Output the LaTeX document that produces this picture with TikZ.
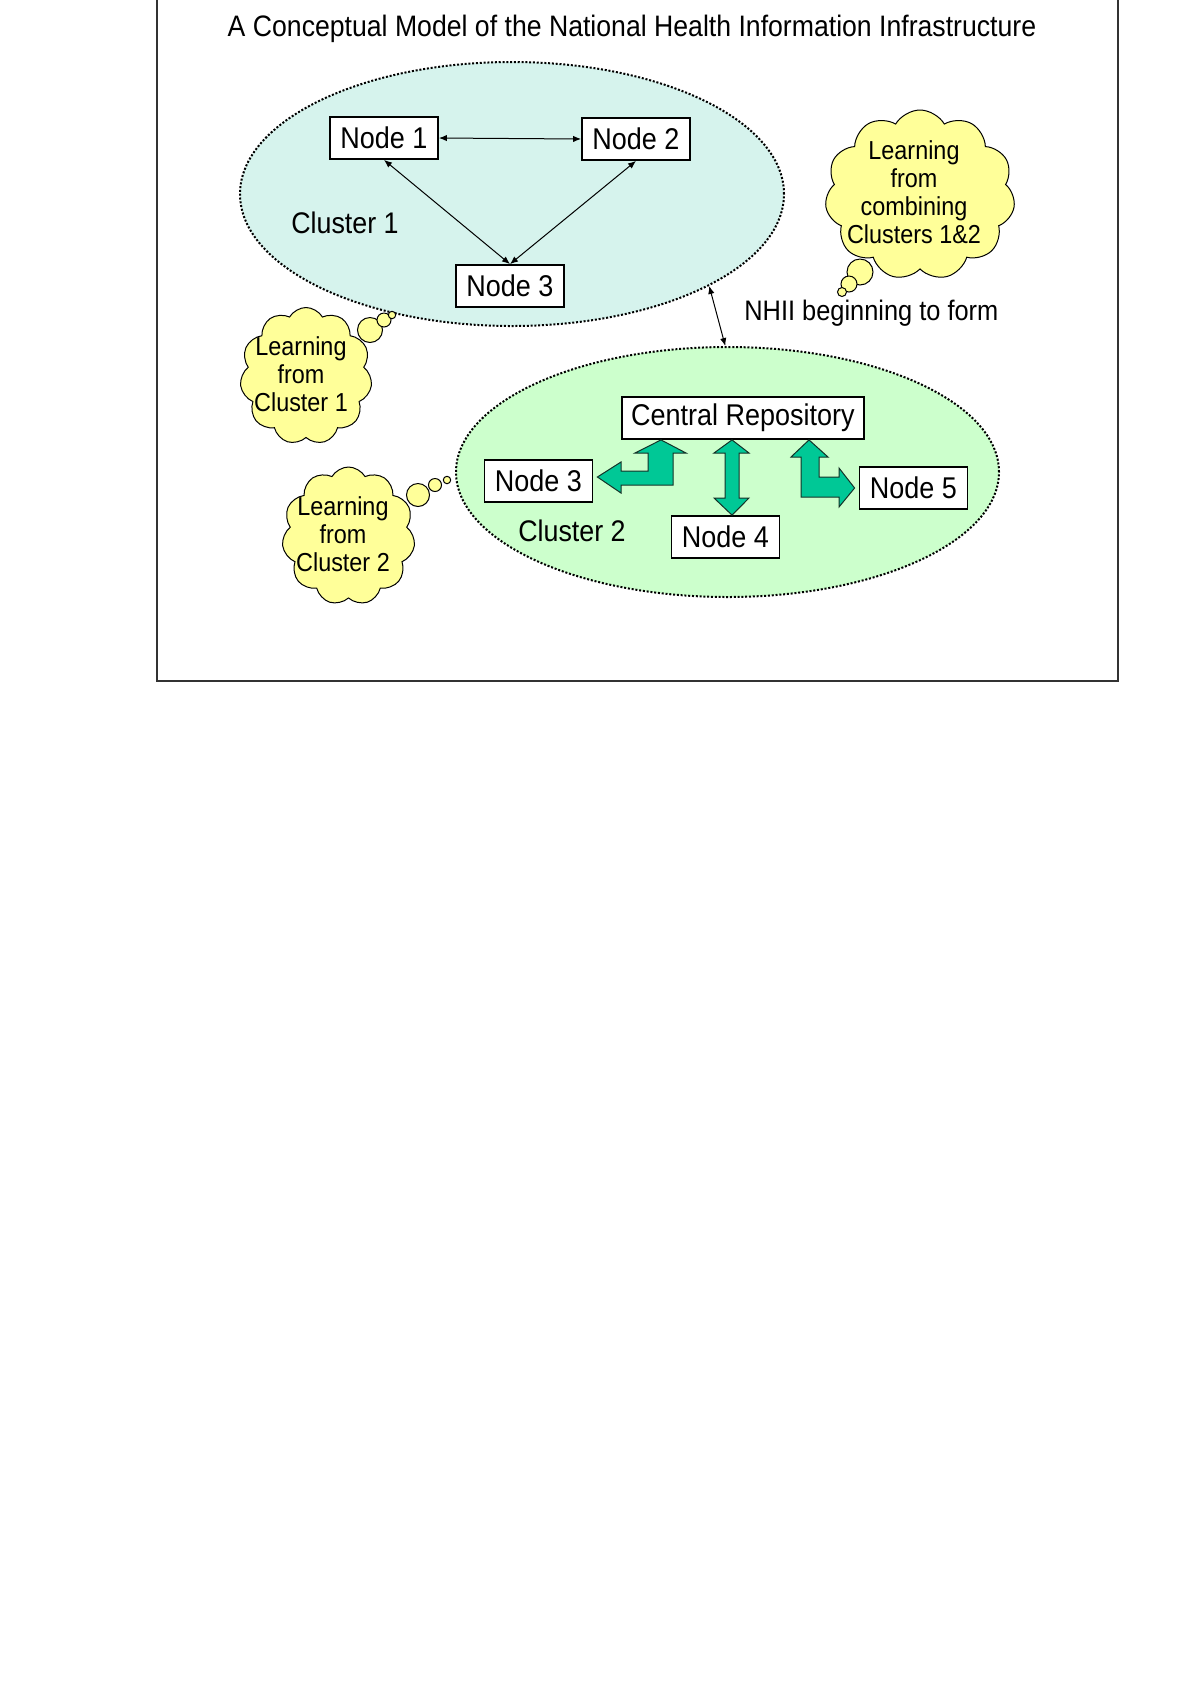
\documentclass[tikz,border=0pt]{standalone}
\usepackage{fontspec}
\setmainfont{Liberation Sans}[FakeStretch=0.9]
\usetikzlibrary{shapes.geometric,shapes.symbols,arrows.meta,calc}
\definecolor{clusterone}{RGB}{214,243,237}
\definecolor{clustertwo}{RGB}{204,255,204}
\definecolor{arrowgreen}{RGB}{0,200,150}
\definecolor{arrowedge}{RGB}{20,50,40}
\definecolor{cloudyellow}{RGB}{255,255,153}
\definecolor{framegray}{RGB}{50,50,50}
\begin{document}
\begin{tikzpicture}[x=0.5pt,y=-0.5pt,
  box/.style={draw, line width=0.9pt, fill=white, minimum height=21pt, minimum width=54pt,
    inner xsep=4.5pt, inner ysep=0pt, font=\fontsize{15}{18}\selectfont},
  cluster/.style={ellipse, draw, line width=1pt, dash pattern=on 1pt off 0.9pt, inner sep=0pt},
  thinarrow/.style={{Latex[length=4pt,width=3.2pt]}-{Latex[length=4pt,width=3.2pt]}, line width=0.5pt},
  blockarrow/.style={fill=arrowgreen, draw=arrowedge, line width=0.5pt, line join=miter},
  thought/.style={cloud, cloud puffs=11, cloud puff arc=120, cloud ignores aspect, draw,
    fill=cloudyellow, line width=0.5pt, inner sep=0pt},
  bubble/.style={circle, draw, fill=cloudyellow, line width=0.5pt, inner sep=0pt},
  cloudtext/.style={align=center, font=\fontsize{13}{14}\selectfont},
  lbl/.style={font=\fontsize{14.9}{17}\selectfont, inner sep=0pt}
]
\useasboundingbox (0,0) rectangle (1200,1699);
% frame
\draw[framegray, line width=0.75pt] (157,-10) -- (157,681) -- (1118,681) -- (1118,-10);
% title
\node[font=\fontsize{14.8}{17}\selectfont] (title) at (632,29)
  {A Conceptual Model of the National Health Information Infrastructure};

% clusters
\node[cluster, fill=clusterone, minimum width=272pt, minimum height=132pt] (c1) at (512,194) {};
\node[cluster, fill=clustertwo, minimum width=271.5pt, minimum height=125pt] (c2) at (727.5,472) {};

% cluster 1 nodes
\node[box] (n1) at (384,138) {Node 1};
\node[box] (n2) at (636,139) {Node 2};
\node[box] (n3a) at (510,286) {Node 3};
\node[lbl] (l1) at (345,223) {Cluster 1};
\draw[thinarrow] (n1.east) -- (n2.west);
\draw[thinarrow] (n1.south) -- (n3a.north);
\draw[thinarrow] (n2.south) -- (n3a.north);

% NHII link
\draw[thinarrow] (c1.-25.7) -- (c2.91);
\node[anchor=west, font=\fontsize{14.1}{16}\selectfont, inner sep=0pt] (nhii) at (744,313) {NHII beginning to form};

% cluster 2 nodes
\node[box] (cr) at (743,418) {Central Repository};
\node[box] (n3b) at (538.5,481) {Node 3};
\node[box] (n4) at (725.5,537) {Node 4};
\node[box] (n5) at (913.5,488) {Node 5};
\node[lbl] (l2) at (572,531) {Cluster 2};

% block arrows
\draw[blockarrow] (661,0 |- cr.south) -- (686,453) -- (673,453) -- (673,485) -- (621,485) -- (621,493)
  -- ($(n3b.east)+(4,-4)$) -- (621,462) -- (621,471) -- (648,471) -- (648,453) -- (635,453) -- cycle;
\draw[blockarrow] (732,0 |- cr.south) -- (749,453) -- (739,453) -- (739,498) -- (749,498)
  -- (732,0 |- n4.north) -- (714,498) -- (725,498) -- (725,453) -- (714,453) -- cycle;
\draw[blockarrow] (809,0 |- cr.south) -- (828,457) -- (819,457) -- (819,477) -- (839,477) -- (839,468)
  -- ($(n5.west)+(-4,0)$) -- (839,507) -- (839,497) -- (801,497) -- (801,457) -- (791,457) -- cycle;

% thought clouds
\node[bubble, minimum size=12.5pt] (b1a) at (370,330) {};
\node[bubble, minimum size=7pt] (b1b) at (384,320) {};
\node[bubble, minimum size=3.7pt] (b1c) at (392,315) {};
\node[thought, minimum width=66pt, minimum height=68.5pt] (cl1) at (306,376) {};
\node[cloudtext] (t1) at (301,374) {Learning\\from\\Cluster 1};

\node[bubble, minimum size=11.5pt] (b2a) at (418,495) {};
\node[bubble, minimum size=6.5pt] (b2b) at (435,485) {};
\node[bubble, minimum size=3.7pt] (b2c) at (447,480) {};
\node[thought, minimum width=66.5pt, minimum height=69pt] (cl2) at (348.5,536) {};
\node[cloudtext] (t2) at (343,534) {Learning\\from\\Cluster 2};

\node[bubble, minimum size=13pt] (b3a) at (860,272) {};
\node[bubble, minimum size=8pt] (b3b) at (849,284) {};
\node[bubble, minimum size=4.5pt] (b3c) at (842,292) {};
\node[thought, minimum width=95pt, minimum height=85pt] (cl3) at (920,195) {};
\node[cloudtext] (t3) at (914,192) {Learning\\from\\combining\\Clusters 1\&2};
\end{tikzpicture}
\end{document}
